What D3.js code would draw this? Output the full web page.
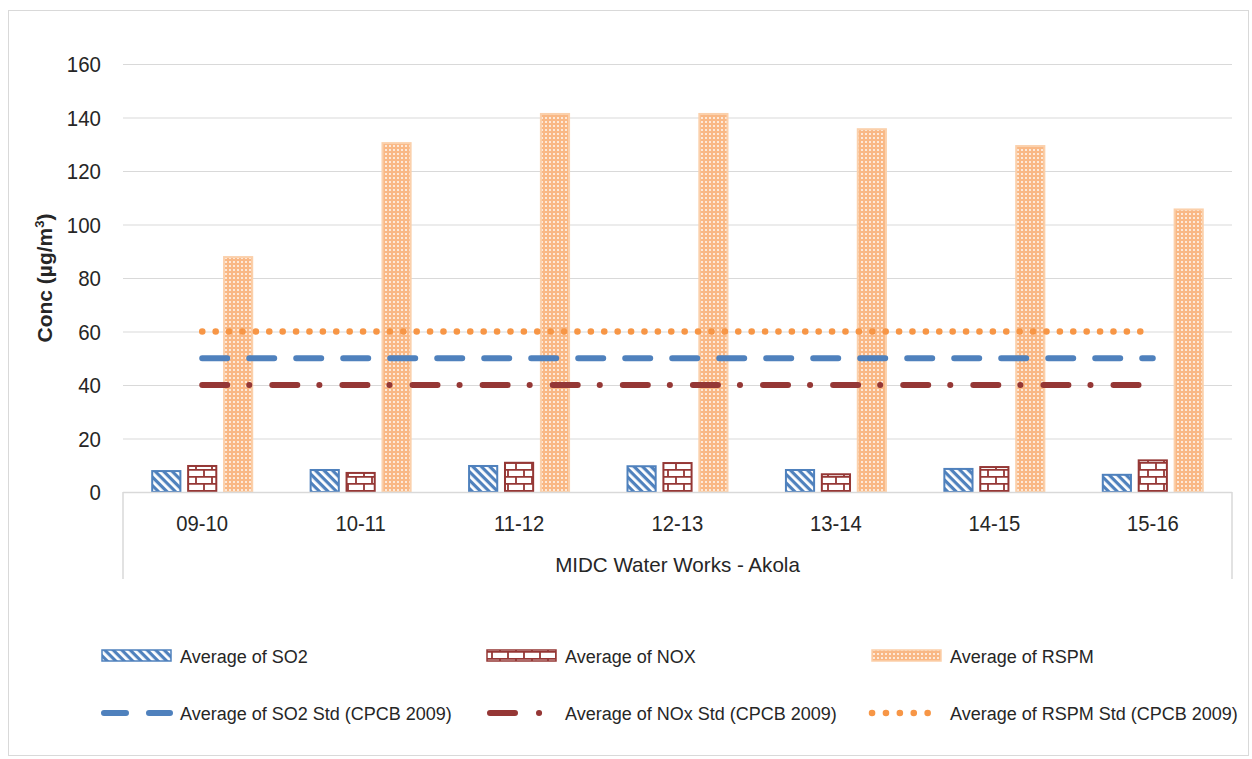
<!DOCTYPE html>
<html lang="en">
<head>
<meta charset="utf-8">
<style type="text/css">
    body { margin: 0; background: #fff; }
    text { font-family: "Liberation Sans", Arial, sans-serif; fill: #262626; }
</style>
<script src="https://cdn.jsdelivr.net/npm/d3@7"></script>
</head>
<body>
<script>
// chart data
const categories = ["09-10", "10-11", "11-12", "12-13", "13-14", "14-15", "15-16"];
const so2 = [8.2, 8.6, 10.1, 10.0, 8.6, 9.0, 6.8];
const nox = [10.1, 7.5, 11.3, 11.2, 7.0, 9.7, 12.2];
const rspm = [88.2, 130.8, 141.7, 141.7, 136.0, 129.7, 106.0];
const so2Std = [50, 50, 50, 50, 50, 50, 50];
const noxStd = [40, 40, 40, 40, 40, 40, 40];
const rspmStd = [60, 60, 60, 60, 60, 60, 60];
const yTicks = [0, 20, 40, 60, 80, 100, 120, 140, 160];
const barSeries = ["Average of SO2", "Average of NOX", "Average of RSPM"];
const lineSeries = ["Average of SO2 Std (CPCB 2009)", "Average of NOx Std (CPCB 2009)", "Average of RSPM Std (CPCB 2009)"];

const w = 1252, h = 759;
const plotL = 123, plotR = 1232, plotT = 64, plotB = 492;

let svg = d3.select("body").append("svg")
    .attr("width", w).attr("height", h);

// squeeze text a little, the original uses a narrow face
const condense = (sel, k) => {
    sel.each(function () {
        let len = this.getComputedTextLength();
        d3.select(this).attr("textLength", len * k).attr("lengthAdjust", "spacingAndGlyphs");
    });
};

// patterns
let defs = svg.append("defs");

let pSo2 = defs.append("pattern").attr("id", "pSo2")
    .attr("patternUnits", "userSpaceOnUse")
    .attr("width", 6).attr("height", 6)
    .attr("patternTransform", "rotate(-45)");
pSo2.append("rect").attr("width", 6).attr("height", 6).attr("fill", "#4f81bd");
pSo2.append("rect").attr("x", 0).attr("width", 2.8).attr("height", 6).attr("fill", "#fff");

let pNox = defs.append("pattern").attr("id", "pNox")
    .attr("patternUnits", "userSpaceOnUse")
    .attr("width", 16).attr("height", 14);
pNox.append("rect").attr("width", 16).attr("height", 14).attr("fill", "#fff");
pNox.append("path")
    .attr("d", "M0,0.9H16 M0,7.9H16 M4,0V7 M12,7V14")
    .attr("stroke", "#953735").attr("stroke-width", 1.8).attr("fill", "none");

let pRspm = defs.append("pattern").attr("id", "pRspm")
    .attr("patternUnits", "userSpaceOnUse")
    .attr("width", 4).attr("height", 4);
pRspm.append("rect").attr("width", 4).attr("height", 4).attr("fill", "#f9b885");
pRspm.append("rect").attr("x", 1).attr("y", 1).attr("width", 2).attr("height", 2).attr("fill", "#fde9d9");

const fills = ["url(#pSo2)", "url(#pNox)", "url(#pRspm)"];
const strokes = ["#4f81bd", "#953735", "#fbd0ab"];
const lineColors = ["#4f81bd", "#953735", "#f79646"];

// outer frame
svg.append("rect")
    .attr("x", 8.5).attr("y", 10.5).attr("width", 1240).attr("height", 745)
    .attr("fill", "none").attr("stroke", "#d9d9d9");

let xScale = d3.scaleBand().domain(categories).range([plotL, plotR]);
let inner = d3.scaleBand().domain(barSeries).range([-51, 51]).paddingInner(0.16);
let yScale = d3.scaleLinear().domain([0, 160]).range([plotB, plotT]);

// grid
svg.append("g").selectAll("line")
    .data(yTicks.filter(d => d > 0))
    .enter().append("line")
    .attr("x1", plotL).attr("x2", plotR)
    .attr("y1", d => yScale(d) + 0.5).attr("y2", d => yScale(d) + 0.5)
    .attr("stroke", "#d9d9d9").attr("stroke-width", 1.2);

// y labels
svg.append("g").selectAll("text")
    .data(yTicks)
    .enter().append("text")
    .attr("x", 101).attr("y", d => yScale(d) + 8)
    .attr("text-anchor", "end")
    .attr("font-size", "22px")
    .text(d => d)
    .call(condense, 0.93);

// bars
const barData = [so2, nox, rspm];
barData.forEach((vals, i) => {
    svg.append("g").selectAll("rect")
        .data(vals)
        .enter().append("rect")
        .attr("x", (d, j) => xScale(categories[j]) + xScale.bandwidth() / 2 + inner(barSeries[i]) + 1)
        .attr("y", d => yScale(d) + 1)
        .attr("width", inner.bandwidth() - 2)
        .attr("height", d => plotB - yScale(d) - 1)
        .attr("fill", fills[i])
        .attr("stroke", strokes[i]).attr("stroke-width", 2);
});

// category axis box
let axisG = svg.append("g").attr("stroke", "#d9d9d9").attr("stroke-width", 1.5);
axisG.append("line").attr("x1", plotL).attr("x2", plotR).attr("y1", plotB + 0.5).attr("y2", plotB + 0.5);
axisG.append("line").attr("x1", plotL).attr("x2", plotL).attr("y1", plotB).attr("y2", 579);
axisG.append("line").attr("x1", plotR).attr("x2", plotR).attr("y1", plotB).attr("y2", 579);

svg.append("g").selectAll("text")
    .data(categories)
    .enter().append("text")
    .attr("x", d => xScale(d) + xScale.bandwidth() / 2)
    .attr("y", 531)
    .attr("text-anchor", "middle")
    .attr("font-size", "22px")
    .text(d => d)
    .call(condense, 0.92);

svg.append("text")
    .attr("x", (plotL + plotR) / 2).attr("y", 572)
    .attr("text-anchor", "middle")
    .attr("font-size", "21px")
    .text("MIDC Water Works - Akola")
    .call(condense, 0.98);

// y title
let yt = svg.append("text")
    .attr("transform", "translate(52,278) rotate(-90)")
    .attr("text-anchor", "middle")
    .attr("font-size", "21px")
    .attr("font-weight", "bold");
yt.append("tspan").text("Conc (\u00b5g/m");
yt.append("tspan").attr("font-size", "13px").attr("dy", -8).text("3");
yt.append("tspan").attr("dy", 8).text(")");

// lines
const lineData = [so2Std, noxStd, rspmStd];
const dashes = ["25 22", "25 22 0.1 23", "0.1 13.3"];
const widths = [6, 6, 6.5];
let line = d3.line()
    .x((d, j) => xScale(categories[j]) + xScale.bandwidth() / 2)
    .y(d => yScale(d));
lineData.forEach((vals, i) => {
    svg.append("path")
        .datum(vals)
        .attr("d", line)
        .attr("fill", "none")
        .attr("stroke", lineColors[i])
        .attr("stroke-width", widths[i])
        .attr("stroke-linecap", "round")
        .attr("stroke-dasharray", dashes[i]);
});

// legend
const legX = [102, 487, 872];
barSeries.forEach((name, i) => {
    svg.append("rect")
        .attr("x", legX[i]).attr("y", 650)
        .attr("width", 69).attr("height", 11)
        .attr("fill", fills[i]).attr("stroke", strokes[i]).attr("stroke-width", 1.5);
    svg.append("text")
        .attr("x", legX[i] + 78).attr("y", 663)
        .attr("font-size", "18px")
        .text(name);
});
const legLine = [[2, 68], [3, 53], [0, 68]];
const legDash = ["22 23", "25 24 0.1 100", "0.1 13.8"];
lineSeries.forEach((name, i) => {
    svg.append("line")
        .attr("x1", legX[i] + legLine[i][0]).attr("x2", legX[i] + legLine[i][1])
        .attr("y1", 713).attr("y2", 713)
        .attr("stroke", lineColors[i])
        .attr("stroke-width", widths[i])
        .attr("stroke-linecap", "round")
        .attr("stroke-dasharray", legDash[i]);
    svg.append("text")
        .attr("x", legX[i] + 78).attr("y", 720)
        .attr("font-size", "18px")
        .text(name);
});
</script>
</body>
</html>
